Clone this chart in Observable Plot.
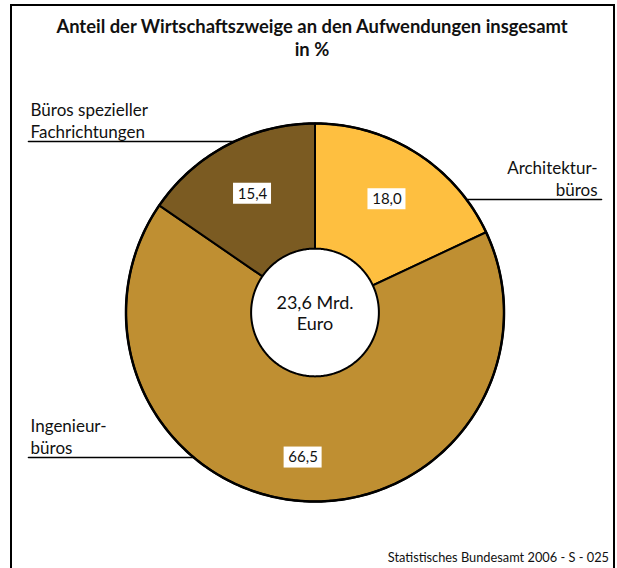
<!DOCTYPE html>
<html><head><meta charset="utf-8">
<script src="https://cdn.jsdelivr.net/npm/d3@7"></script>
<script src="https://cdn.jsdelivr.net/npm/@observablehq/plot@0.6"></script>
<style>
body{margin:0;background:#fff;}
#wrap{position:relative;width:617px;height:568px;overflow:hidden;font-family:Lato,"Open Sans",sans-serif;color:#111;}
#chart{position:absolute;left:0;top:0;}
#frame{position:absolute;left:10px;top:4px;width:605px;height:620px;border:2px solid #000;box-sizing:border-box;pointer-events:none;}
#title{position:absolute;left:12px;width:600px;top:15px;text-align:center;font-weight:bold;font-size:18.4px;line-height:23px;}
#caption{position:absolute;right:8px;top:549px;font-size:12.8px;}
</style></head>
<body>
<div id="wrap">
  <div id="chart"></div>
  <div id="frame"></div>
  <div id="title">Anteil der Wirtschaftszweige an den Aufwendungen insgesamt<br>in %</div>
  <div id="caption">Statistisches Bundesamt 2006 - S - 025</div>
</div>
<script>
// ---- data ----
const categories = ["Architekturbüros", "Ingenieurbüros", "Büros spezieller Fachrichtungen"];
const shares = [18.0, 66.5, 15.4];
const valueLabels = ["18,0", "66,5", "15,4"];
const categoryLabels = ["Architektur-\nbüros", "Ingenieur-\nbüros", "Büros spezieller\nFachrichtungen"];
const sliceColors = ["#FEBF40", "#BF8F32", "#7B5B22"];
const totalLabel = "23,6 Mrd.\nEuro";

// ---- geometry (unit circle, angle clockwise from top) ----
const total = d3.sum(shares);
let acc = 0;
const slices = shares.map((v, i) => {
  const a0 = acc / total * 2 * Math.PI;
  acc += v;
  const a1 = acc / total * 2 * Math.PI;
  return {cat: categories[i], value: v, label: valueLabels[i], a0, a1, mid: (a0 + a1) / 2};
});
const pt = (a, r) => [r * Math.sin(a), r * Math.cos(a)];
const slicePts = [];
slices.forEach(s => {
  const n = Math.max(4, Math.ceil((s.a1 - s.a0) / 0.01));
  slicePts.push({cat: s.cat, x: 0, y: 0});
  for (let k = 0; k <= n; k++) {
    const [x, y] = pt(s.a0 + (s.a1 - s.a0) * k / n, 1);
    slicePts.push({cat: s.cat, x, y});
  }
  slicePts.push({cat: s.cat, x: 0, y: 0});
});
const circle = r => d3.range(0, 361).map(d => { const [x, y] = pt(d / 180 * Math.PI, r); return {x, y}; });
const innerR = 0.338;
const labelRadii = [0.71, 0.77, 0.71];
const boxW = 38 / 189, boxH = 21 / 189;
const valuePos = slices.map((s, i) => { const [x, y] = pt(s.mid, labelRadii[i]); return {x, y, label: s.label}; });

// leader lines: y level (unit), side
const leaderY = [0.598, -0.767, 0.905];
const leaderSide = [1, -1, -1];
const leaders = [], catText = [];
categories.forEach((c, i) => {
  const y = leaderY[i];
  const edge = Math.sqrt(1 - y * y);
  const xs = leaderSide[i] > 0 ? [edge, 1.516] : [-1.516, -edge];
  leaders.push({cat: c, x: xs[0], y}, {cat: c, x: xs[1], y});
  catText.push({x: leaderSide[i] > 0 ? 1.495 : -1.505, y, text: categoryLabels[i], anchor: leaderSide[i] > 0 ? "end" : "start"});
});

const chart = Plot.plot({
  width: 617, height: 568,
  style: {background: "transparent", fontFamily: "Lato, 'Open Sans', sans-serif"},
  x: {domain: [-1, 1], range: [125.5, 503.5], axis: null},
  y: {domain: [-1, 1], range: [501, 123], axis: null},
  color: {domain: categories, range: sliceColors},
  marks: [
    Plot.line(slicePts, {x: "x", y: "y", z: "cat", fill: "cat", stroke: "#000", strokeWidth: 2, curve: "linear", strokeLinejoin: "round"}),
    Plot.line(circle(1), {x: "x", y: "y", stroke: "#000", strokeWidth: 2.5}),
    Plot.line(circle(innerR), {x: "x", y: "y", fill: "#fff", stroke: "#000", strokeWidth: 2}),
    Plot.line(leaders, {x: "x", y: "y", z: "cat", stroke: "#000", strokeWidth: 1.6}),
    Plot.text(catText.filter(d => d.anchor === "start"), {x: "x", y: "y", text: "text", textAnchor: "start", lineAnchor: "bottom", dy: -3, fontSize: 17, lineHeight: 1.35, fill: "#111"}),
    Plot.text(catText.filter(d => d.anchor === "end"), {x: "x", y: "y", text: "text", textAnchor: "end", lineAnchor: "bottom", dy: -3, fontSize: 17, lineHeight: 1.35, fill: "#111"}),
    Plot.rect(valuePos, {x1: d => d.x - boxW / 2, x2: d => d.x + boxW / 2, y1: d => d.y - boxH / 2, y2: d => d.y + boxH / 2, fill: "#fff"}),
    Plot.text(valuePos, {x: "x", y: "y", text: "label", fontSize: 15, fill: "#111"}),
    Plot.text([totalLabel], {x: () => 0, y: () => 0, text: d => d, fontSize: 18, lineHeight: 1.2, fill: "#111"})
  ]
});
document.getElementById("chart").appendChild(chart);
</script>
</body></html>
